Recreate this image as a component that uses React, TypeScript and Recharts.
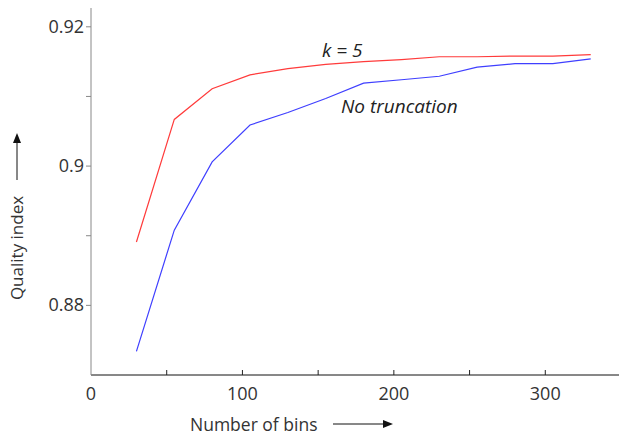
import React from "react";
import { Line, LineChart, XAxis, YAxis } from "recharts";

const bins = [30, 55, 80, 105, 130, 155, 180, 205, 230, 255, 280, 305, 330];
const k5 = [
  0.8891, 0.9067, 0.9111, 0.9131, 0.914, 0.9146, 0.915, 0.9153, 0.9157, 0.9157,
  0.9158, 0.9158, 0.916,
];
const noTruncation = [
  0.8734, 0.8908, 0.9006, 0.9059, 0.9077, 0.9097, 0.9119, 0.9124, 0.9129,
  0.9142, 0.9147, 0.9147, 0.9154,
];
const xTicks = [0, 50, 100, 150, 200, 250, 300, 350];
const xLabels = [0, 100, 200, 300];
const yTicks = [0.88, 0.89, 0.9, 0.91, 0.92];
const yLabels = [0.88, 0.9, 0.92];

const FONT = "'Open Sans', sans-serif";

const data = bins.map((b, i) => ({ bins: b, k5: k5[i], none: noTruncation[i] }));

const BottomTick = (props: any) => {
  const { x, y, payload } = props;
  const v = payload.value;
  return (
    <g>
      {v > 0 && v < 350 && <line x1={x} y1={y} x2={x} y2={y - 5} stroke='#222' />}
      {xLabels.includes(v) && (
        <text x={x} y={y + 25} textAnchor='middle' fontSize={18} fill='#333' fontFamily={FONT}>
          {v}
        </text>
      )}
    </g>
  );
};

const TopTick = (props: any) => {
  const { x, y, payload } = props;
  if (payload.value <= 0 || payload.value >= 350) return <g />;
  return <line x1={x} y1={y} x2={x} y2={y + 5} stroke='#222' />;
};

const LeftTick = (props: any) => {
  const { x, y, payload } = props;
  const v = payload.value;
  return (
    <g>
      <line x1={x} y1={y} x2={x - 5} y2={y} stroke='#888' />
      {yLabels.some((l) => Math.abs(l - v) < 1e-6) && (
        <text x={x - 7} y={y + 6} textAnchor='end' fontSize={18} fill='#333' fontFamily={FONT}>
          {String(+v.toFixed(2))}
        </text>
      )}
    </g>
  );
};

const RightTick = (props: any) => {
  const { x, y } = props;
  return <line x1={x} y1={y} x2={x - 5} y2={y} stroke='#444' />;
};

export default function App() {
  return (
    <div
      style={{
        position: "absolute",
        left: 0,
        top: 0,
        width: 619,
        height: 435,
        overflow: "hidden",
        background: "#fff",
        fontFamily: FONT,
      }}>
      <LineChart
        width={625}
        height={435}
        data={data}
        margin={{ top: 8, right: 4, bottom: 0, left: 0 }}>
        <XAxis
          dataKey='bins'
          type='number'
          domain={[0, 350]}
          ticks={xTicks}
          interval={0}
          height={60}
          tickSize={0}
          tickMargin={0}
          tickLine={false}
          axisLine={{ stroke: "#111" }}
          tick={<BottomTick />}
        />
        <XAxis
          xAxisId='top'
          orientation='top'
          type='number'
          domain={[0, 350]}
          ticks={xTicks}
          interval={0}
          height={0}
          tickSize={0}
          tickMargin={0}
          tickLine={false}
          axisLine={{ stroke: "#111" }}
          tick={<TopTick />}
        />
        <YAxis
          type='number'
          domain={[0.87, 0.9227]}
          ticks={yTicks}
          interval={0}
          width={91}
          tickSize={0}
          tickMargin={0}
          tickLine={false}
          axisLine={{ stroke: "#888" }}
          tick={<LeftTick />}
          allowDataOverflow
        />
        <YAxis
          yAxisId='right'
          orientation='right'
          type='number'
          domain={[0.87, 0.9227]}
          ticks={yTicks}
          interval={0}
          width={0}
          tickSize={0}
          tickMargin={0}
          tickLine={false}
          axisLine={{ stroke: "#111" }}
          tick={<RightTick />}
          allowDataOverflow
        />
        <Line
          dataKey='k5'
          stroke='#ff3b3b'
          strokeWidth={1.2}
          dot={false}
          isAnimationActive={false}
        />
        <Line
          dataKey='none'
          stroke='#3f3fff'
          strokeWidth={1.2}
          dot={false}
          isAnimationActive={false}
        />
      </LineChart>
      <svg
        width={619}
        height={435}
        style={{ position: "absolute", left: 0, top: 0, pointerEvents: "none" }}>
        <text x={322} y={57} fontSize={19} fontStyle='italic' fill='#222' fontFamily={FONT}>
          k = 5
        </text>
        <text x={341} y={113} fontSize={19} fontStyle='italic' fill='#222' fontFamily={FONT}>
          No truncation
        </text>
        <text x={190} y={431} fontSize={17.5} fill='#333' fontFamily={FONT}>
          Number of bins
        </text>
        <line x1={333} y1={424} x2={384} y2={424} stroke='#111' />
        <polygon points='393,424 383,420 383,428' fill='#111' />
        <text
          x={0}
          y={0}
          transform='translate(23,248) rotate(-90)'
          textAnchor='middle'
          fontSize={17}
          fill='#333'
          fontFamily={FONT}>
          Quality index
        </text>
        <line x1={17} y1={180} x2={17} y2={142} stroke='#111' />
        <polygon points='17,133 13,143 21,143' fill='#111' />
      </svg>
    </div>
  );
}
